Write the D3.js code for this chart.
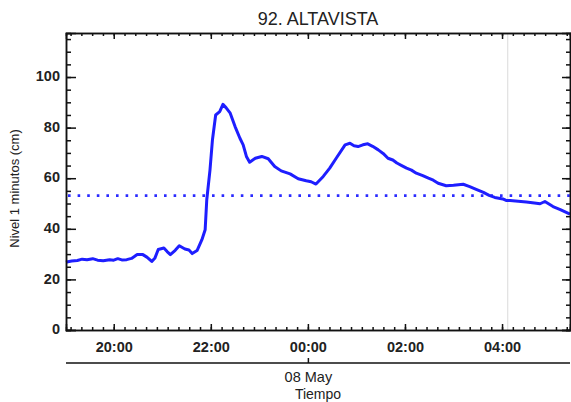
<!DOCTYPE html>
<html><head><meta charset="utf-8">
<script src="https://cdn.jsdelivr.net/npm/d3@7"></script>
<style>body{margin:0;background:#fff}svg{display:block}text{font-family:"Liberation Sans",Arial,sans-serif}</style>
</head><body><svg id="c" width="571" height="402"></svg>
<script>
const title = "92. ALTAVISTA";
const yLabel = "Nivel 1 minutos (cm)";
const xLabel = "Tiempo";
const dateLabel = "08 May";
const times = ["19:01","19:02","19:08","19:15","19:21","19:27","19:34","19:40","19:47","19:55","20:00","20:05","20:10","20:16","20:22","20:29","20:36","20:41","20:47","20:51","20:55","21:02","21:06","21:10","21:16","21:21","21:28","21:33","21:37","21:43","21:49","21:53","21:55","21:59","22:02","22:06","22:11","22:15","22:19","22:24","22:30","22:36","22:40","22:44","22:48","22:55","23:03","23:11","23:19","23:27","23:38","23:48","23:58","00:04","00:10","00:19","00:27","00:35","00:46","00:52","00:57","01:02","01:08","01:14","01:20","01:27","01:33","01:39","01:45","01:50","01:56","02:02","02:08","02:14","02:22","02:29","02:35","02:41","02:51","03:00","03:06","03:12","03:20","03:28","03:37","03:44","03:51","04:01","04:05","04:10","04:20","04:30","04:40","04:47","04:53","04:58","05:03","05:12","05:24"];
const level = [26.8,26.9,27.3,27.5,28.0,27.8,28.2,27.6,27.4,27.8,27.6,28.2,27.7,27.8,28.3,29.8,29.8,28.8,27.1,28.5,31.8,32.4,31.0,29.8,31.5,33.3,32.0,31.6,30.2,31.4,35.7,39.6,51.5,63.3,75.1,85.0,86.3,89.2,87.8,85.7,80.4,75.8,73.2,68.6,66.3,67.9,68.6,67.7,64.6,62.9,61.7,59.8,59.0,58.6,57.7,60.7,64.0,67.9,73.2,73.8,72.8,72.5,73.2,73.6,72.6,71.2,69.8,67.9,67.2,66.0,65.0,64.0,63.2,62.0,61.0,60.0,59.2,58.0,57.0,57.2,57.4,57.6,56.7,55.6,54.4,53.2,52.4,51.8,51.2,51.2,50.9,50.6,50.2,49.9,50.8,49.8,48.8,47.6,45.8];
const threshold = 53.1;
const markerTime = "04:07";
const xStart = "19:01", xEnd = "05:24";
const majorTicks = ["20:00","22:00","00:00","02:00","04:00"];
const yTicks = [0,20,40,60,80,100];
const yMax = 117.4;

function parseT(s){const [h,m]=s.split(":").map(Number);return new Date(2023,4,h<12?8:7,h,m);}
const data = times.map((t,i)=>({t:parseT(t),v:level[i]}));

const L=66,R=570,T=33,B=330;
const svg=d3.select("#c");
const x=d3.scaleTime().domain([parseT(xStart),parseT(xEnd)]).range([L,R]);
const y=d3.scaleLinear().domain([0,yMax]).range([B,T]);

const majors=majorTicks.map(parseT);
const step=2*3600e3/9;
const minors=[];
for(let t=majors[0].getTime()-9*step;t<=parseT(xEnd).getTime();t+=step){
  const d=new Date(t); if(d>=x.domain()[0]) minors.push(d);
}
const yMinor=d3.range(0,yMax,5);

// marker line
svg.append("line").attr("x1",x(parseT(markerTime))).attr("x2",x(parseT(markerTime)))
  .attr("y1",T).attr("y2",B).attr("stroke","#e0e0e0").attr("stroke-width",1.2);

// threshold dotted
svg.append("line").attr("x1",L+2).attr("x2",R).attr("y1",y(threshold)).attr("y2",y(threshold))
  .attr("stroke","#2a2aff").attr("stroke-width",2.6).attr("stroke-dasharray","2.6 7");

// series
svg.append("path").datum(data)
  .attr("d",d3.line().x(d=>x(d.t)).y(d=>y(d.v)))
  .attr("fill","none").attr("stroke","#1e1eff").attr("stroke-width",3).attr("stroke-linejoin","round");

const fmt=d3.timeFormat("%H:%M");
function styleAxis(g){g.selectAll("path,line").attr("stroke","#111").attr("stroke-width",1.5);}
// bottom axis minor + major
svg.append("g").attr("transform",`translate(0,${B})`).call(d3.axisBottom(x).tickValues(minors).tickSize(-3).tickFormat("")).call(styleAxis);
const bx=svg.append("g").attr("transform",`translate(0,${B})`).call(d3.axisBottom(x).tickValues(majors).tickSize(-6).tickPadding(12).tickFormat(fmt)).call(styleAxis);
bx.selectAll("text").attr("font-size",14.5).attr("font-weight","bold").attr("fill","#222");
// top
svg.append("g").attr("transform",`translate(0,${T})`).call(d3.axisTop(x).tickValues(minors).tickSize(-3).tickFormat("")).call(styleAxis);
svg.append("g").attr("transform",`translate(0,${T})`).call(d3.axisTop(x).tickValues(majors).tickSize(-6).tickFormat("")).call(styleAxis);
// left
svg.append("g").attr("transform",`translate(${L},0)`).call(d3.axisLeft(y).tickValues(yMinor).tickSize(-5).tickFormat("")).call(styleAxis);
const ly=svg.append("g").attr("transform",`translate(${L},0)`).call(d3.axisLeft(y).tickValues(yTicks).tickSize(-10).tickPadding(6).tickFormat(d3.format("d"))).call(styleAxis);
ly.selectAll("text").attr("font-size",14.5).attr("font-weight","bold").attr("fill","#222").attr("dy","0.25em");
// right
svg.append("g").attr("transform",`translate(${R},0)`).call(d3.axisRight(y).tickValues(yMinor).tickSize(-4).tickFormat("")).call(styleAxis);
svg.append("g").attr("transform",`translate(${R},0)`).call(d3.axisRight(y).tickValues(yTicks).tickSize(-8).tickFormat("")).call(styleAxis);

// date axis
const dg=svg.append("g").attr("transform",`translate(0,363)`)
  .call(d3.axisBottom(x).tickValues([parseT("00:00")]).tickSize(-5).tickPadding(7).tickFormat(()=>dateLabel)).call(styleAxis);
dg.select(".domain").attr("d",`M${L},0H${R}`);
dg.selectAll("text").attr("font-size",14.5).attr("fill","#222").attr("dy","0.8em");

svg.append("text").attr("x",(L+R)/2).attr("y",399).attr("text-anchor","middle").attr("font-size",14).attr("fill","#222").text(xLabel);
svg.append("text").attr("transform",`translate(19,${(T+B)/2+7}) rotate(-90)`).attr("text-anchor","middle").attr("font-size",13).attr("fill","#222").text(yLabel);
svg.append("text").attr("x",(L+R)/2).attr("y",25).attr("text-anchor","middle").attr("font-size",18).attr("fill","#222").text(title);
</script></body></html>
